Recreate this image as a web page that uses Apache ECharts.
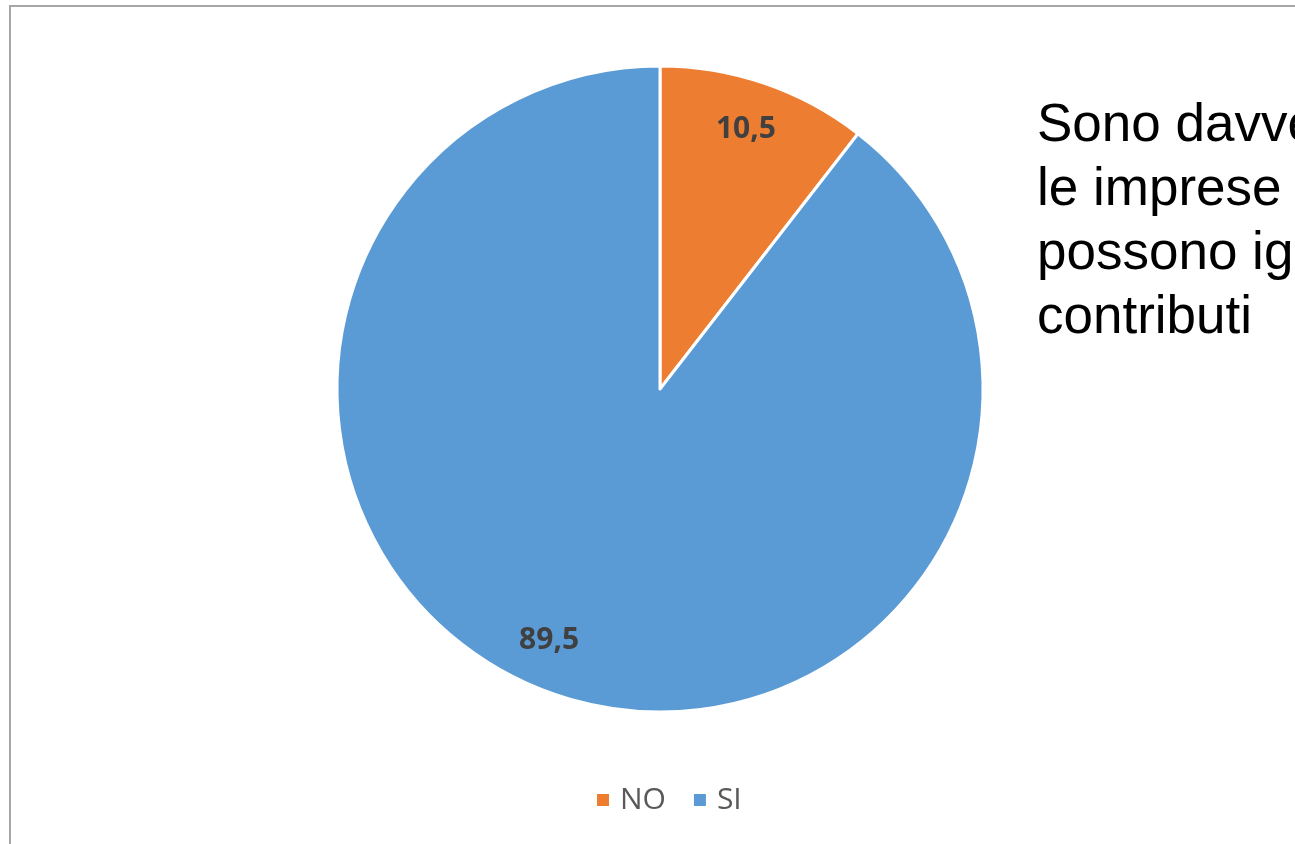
<!DOCTYPE html>
<html>
<head>
<meta charset="utf-8">
<script src="https://cdn.jsdelivr.net/npm/echarts@6/dist/echarts.min.js"></script>
<style>
html,body{margin:0;padding:0;background:#fff;overflow:hidden;}
#main{width:1295px;height:844px;}
</style>
</head>
<body>
<div id="main"></div>
<script>
var categories = ['NO', 'SI'];
var values = [10.5, 89.5];
var colors = ['#ED7D31', '#5B9BD5'];
var titleLines = ['Sono davvero poche', 'le imprese che', 'possono ignorare i', 'contributi'];

var chart = echarts.init(document.getElementById('main'));
var pieData = categories.map(function (c, i) {
  return { name: c, value: values[i], itemStyle: { color: colors[i] } };
});
var labelData = categories.map(function (c, i) {
  return { name: c, value: values[i] };
});
function fmt(p) { return String(p.value).replace('.', ','); }

chart.setOption({
  animation: false,
  backgroundColor: '#ffffff',
  graphic: [{
    type: 'rect',
    shape: { x: 10, y: 6, width: 1400, height: 1000 },
    style: { fill: 'none', stroke: '#a6a6a6', lineWidth: 2 },
    silent: true
  }],
  title: {
    text: titleLines.join('\n'),
    left: 1037,
    top: 94,
    padding: 0,
    textStyle: {
      fontFamily: 'Liberation Sans, Arial, sans-serif',
      fontSize: 53,
      fontWeight: 'normal',
      color: '#000000',
      lineHeight: 64
    }
  },
  legend: {
    data: categories,
    left: 595,
    top: 785,
    padding: 0,
    itemWidth: 14,
    itemHeight: 14,
    itemGap: 26,
    icon: 'rect',
    textStyle: {
      fontFamily: 'Open Sans, sans-serif',
      fontSize: 30,
      color: '#595959',
      padding: [0, 0, 0, 5]
    }
  },
  series: [{
    type: 'pie',
    center: [660, 389],
    radius: [0, 323],
    startAngle: 90,
    clockwise: true,
    silent: true,
    itemStyle: { borderColor: '#ffffff', borderWidth: 3 },
    label: { show: false },
    labelLine: { show: false },
    data: pieData
  }, {
    type: 'pie',
    center: [660, 389],
    radius: [226, 323],
    startAngle: 90,
    clockwise: true,
    silent: true,
    legendHoverLink: false,
    itemStyle: { color: 'rgba(0,0,0,0)', borderWidth: 0 },
    label: {
      show: true,
      position: 'inside',
      formatter: fmt,
      fontFamily: 'Open Sans, sans-serif',
      fontWeight: 'bold',
      fontSize: 30,
      color: '#404040'
    },
    labelLayout: function (p) {
      if (p.dataIndex === 0) { return { dx: -4, dy: 3 }; }
      if (p.dataIndex === 1) { return { dx: -21, dy: -11 }; }
      return {};
    },
    labelLine: { show: false },
    data: labelData
  }]
});
</script>
</body>
</html>
